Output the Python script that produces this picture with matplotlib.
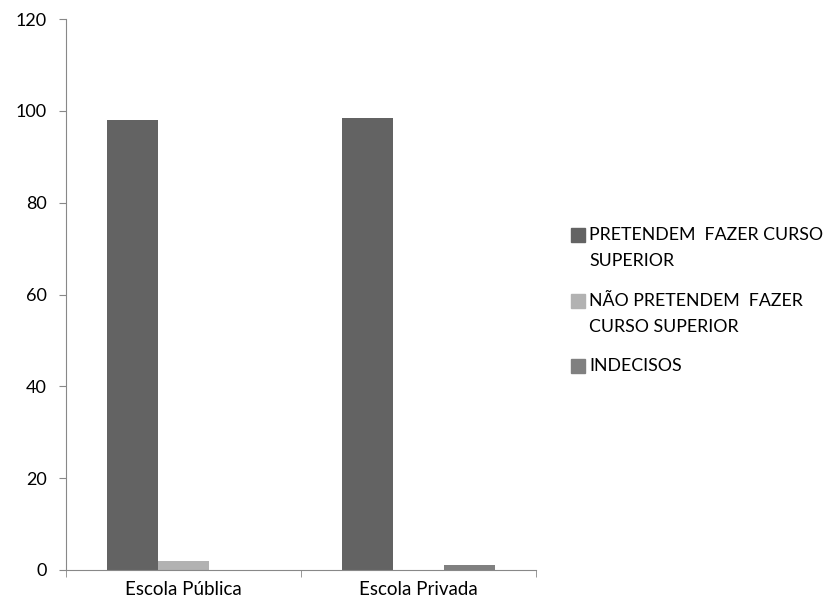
import matplotlib.pyplot as plt
import numpy as np
from matplotlib.patches import Rectangle

plt.rcParams['font.family'] = ['Lato', 'DejaVu Sans']

categories = ['Escola Pública', 'Escola Privada']
series_names = ['PRETENDEM  FAZER CURSO\nSUPERIOR',
                'NÃO PRETENDEM  FAZER\nCURSO SUPERIOR',
                'INDECISOS']
pretendem = [98, 98.5]
nao_pretendem = [2, 0]
indecisos = [0, 1]
colors = ['#636363', '#b2b2b2', '#808080']

W, H = 828, 608
fig = plt.figure(figsize=(W / 100, H / 100), dpi=100)
ax = fig.add_axes([66 / W, 38 / H, 470 / W, 551 / H])

x = np.arange(len(categories))
w = 0.217
for i, vals in enumerate([pretendem, nao_pretendem, indecisos]):
    ax.bar(x + (i - 1) * w, vals, w, color=colors[i])

ax.set_xlim(-0.5, 1.5)
ax.set_ylim(0, 120)
ax.set_yticks(range(0, 121, 20))
ax.set_xticks(x)
ax.set_xticklabels(categories)
ax.set_xticks([-0.5, 0.5, 1.5], minor=True)
ax.tick_params(axis='x', which='major', length=0, pad=8, labelsize=13.5)
ax.tick_params(axis='x', which='minor', length=5, color='#888888')
ax.tick_params(axis='y', length=5, color='#888888', labelsize=13, pad=9)

ax.spines['top'].set_visible(False)
ax.spines['right'].set_visible(False)
ax.spines['left'].set_color('#888888')
ax.spines['bottom'].set_color('#888888')

# legend drawn by hand so the swatch sits on the first text line
tops = [228, 294, 359]
for name, col, top in zip(series_names, colors, tops):
    fig.patches.append(Rectangle((571 / W, 1 - (top + 14) / H), 14 / W, 14 / H,
                                 transform=fig.transFigure, color=col))
    fig.text(589 / W, 1 - (top - 1) / H, name, fontsize=12.8, va='top', ha='left',
             linespacing=1.75)

fig.savefig('out.png', dpi=100)
